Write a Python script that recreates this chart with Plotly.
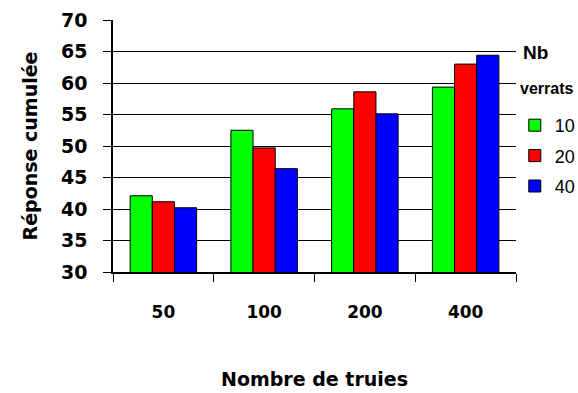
import plotly.graph_objects as go

categories = ["50", "100", "200", "400"]
series_names = ["10", "20", "40"]
values_10 = [42.1, 52.5, 55.9, 59.35]
values_20 = [41.15, 49.7, 58.6, 63.0]
values_40 = [40.2, 46.4, 55.1, 64.4]
colors = ["#00FF00", "#FF0000", "#0000FF"]

FONT = "DejaVu Sans"

fig = go.Figure()
for i, (name, vals) in enumerate(zip(series_names, [values_10, values_20, values_40])):
    fig.add_trace(go.Bar(
        x=categories, y=vals, name=name, legendgroup=name,
        marker=dict(color=colors[i], line=dict(color="black", width=1)),
    ))

fig.update_layout(
    width=578, height=393,
    margin=dict(l=113, r=62, t=20, b=121, autoexpand=False),
    paper_bgcolor="white", plot_bgcolor="white",
    barmode="group", bargap=0.34, bargroupgap=0,
    font=dict(family=FONT, color="black"),
    showlegend=True,
    legend=dict(
        x=0.997, xanchor="left", y=(272 - 107) / 252, yanchor="top",
        font=dict(family="Liberation Sans", size=18, color="black"),
        tracegroupgap=4, itemwidth=30, bgcolor="rgba(0,0,0,0)",
    ),
    xaxis=dict(
        type="category",
        showline=True, linecolor="black", linewidth=1.5,
        ticks="outside", tickson="boundaries", ticklen=8, tickcolor="black", tickwidth=1,
        tickfont=dict(family=FONT, size=17, color="black", weight="bold"),
        ticklabelstandoff=24,
        title=dict(text="Nombre de truies", font=dict(family=FONT, size=19, weight="bold"), standoff=52),
        showgrid=False,
    ),
    yaxis=dict(
        range=[30, 70], dtick=5, tick0=30,
        showline=True, linecolor="black", linewidth=1.5,
        showgrid=True, gridcolor="black", gridwidth=1,
        ticks="outside", ticklen=8, tickcolor="black",
        tickfont=dict(family=FONT, size=19, color="black", weight="bold"),
        ticklabelstandoff=12,
        title=dict(text="Réponse cumulée", font=dict(family=FONT, size=19, weight="bold"), standoff=18),
        zeroline=False,
    ),
    annotations=[
        dict(text="<b>Nb</b>", xref="paper", yref="paper", x=1.013, y=(272 - 52) / 252,
             xanchor="left", yanchor="middle", showarrow=False,
             font=dict(family="Liberation Sans", size=19, color="black")),
        dict(text="<b>verrats</b>", xref="paper", yref="paper", x=1.006, y=(272 - 88) / 252,
             xanchor="left", yanchor="middle", showarrow=False,
             font=dict(family="Liberation Sans", size=16, color="black")),
    ],
)

fig.write_html("out.html", config={"displayModeBar": False},
               post_script="document.body.style.margin='0';document.body.style.overflow='hidden';")
